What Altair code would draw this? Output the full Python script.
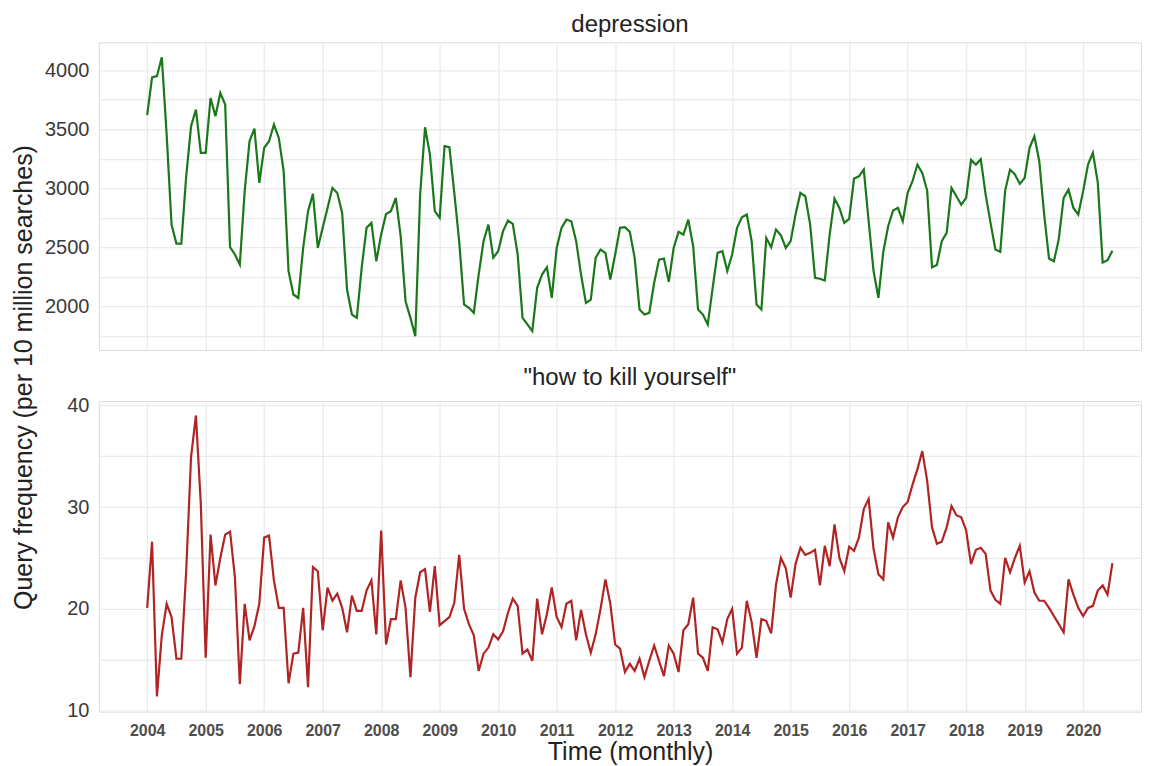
import altair as alt
import pandas as pd

START_YEAR = 2004

# Monthly query frequency (per 10 million searches), Jan 2004 - Jul 2020
depression = [
    3620, 3940, 3950, 4110, 3450, 2690, 2530, 2530, 3100, 3525, 3667, 3300,
    3300, 3765, 3610, 3808, 3709, 2500, 2438, 2353, 2975, 3400, 3506, 3045,
    3342, 3398, 3540, 3426, 3144, 2297, 2099, 2070, 2494, 2805, 2952, 2494,
    2664, 2833, 3003, 2960, 2790, 2141, 1929, 1901, 2324, 2664, 2706, 2381,
    2607, 2782, 2805, 2918, 2593, 2042, 1901, 1746, 2950, 3517, 3285, 2805,
    2749, 3356, 3347, 2960, 2551, 2014, 1986, 1943, 2268, 2551, 2692, 2410,
    2466, 2636, 2726, 2698, 2438, 1901, 1845, 1788, 2155, 2268, 2330, 2070,
    2494, 2664, 2734, 2720, 2551, 2268, 2028, 2056, 2410, 2480, 2452, 2226,
    2438, 2664, 2669, 2630, 2410, 1972, 1929, 1943, 2198, 2395, 2404, 2206,
    2494, 2630, 2607, 2734, 2508, 1972, 1929, 1845, 2155, 2452, 2466, 2297,
    2438, 2664, 2754, 2777, 2551, 2014, 1972, 2579, 2500, 2650, 2600, 2494,
    2551, 2777, 2960, 2932, 2692, 2240, 2232, 2217, 2607, 2912, 2833, 2706,
    2740, 3082, 3101, 3158, 2720, 2300, 2070, 2460, 2678, 2811, 2833, 2720,
    2960, 3059, 3200, 3130, 2980, 2330, 2350, 2551, 2621, 3003, 2932, 2860,
    2918, 3240, 3200, 3245, 2946, 2706, 2480, 2460, 2980, 3158, 3116, 3037,
    3087, 3342, 3440, 3229, 2777, 2404, 2381, 2568, 2918, 2988, 2833, 2777,
    2975, 3200, 3300, 3050, 2370, 2390, 2470,
]

kill_yourself = [
    20.1, 26.6, 11.4, 17.4, 20.5, 19.2, 15.1, 15.1, 23.7, 34.9, 39.0, 30.3,
    15.2, 27.3, 22.3, 25.0, 27.3, 27.6, 23.1, 12.6, 20.5, 16.9, 18.3, 20.5,
    27.0, 27.2, 22.8, 20.1, 20.1, 12.7, 15.6, 15.7, 20.1, 12.3, 24.1, 23.7,
    17.9, 22.1, 20.8, 21.5, 20.1, 17.7, 21.3, 19.8, 19.8, 21.8, 22.8, 17.5,
    27.7, 16.5, 19.0, 19.0, 22.8, 20.1, 13.3, 21.1, 23.6, 23.9, 19.7, 24.2,
    18.4, 18.8, 19.2, 20.6, 25.3, 20.0, 18.5, 17.4, 13.9, 15.6, 16.2, 17.5,
    17.0, 17.8, 19.6, 21.0, 20.3, 15.6, 16.0, 14.9, 21.0, 17.5, 19.5, 22.1,
    19.2, 18.2, 20.5, 20.8, 16.9, 19.9, 17.5, 15.7, 17.5, 20.0, 22.9, 20.5,
    16.5, 16.1, 13.8, 14.6, 13.9, 15.1, 13.3, 14.9, 16.4, 14.9, 13.4, 16.4,
    15.6, 13.8, 17.9, 18.5, 21.1, 15.6, 15.2, 13.9, 18.2, 18.0, 16.7, 19.0,
    20.0, 15.6, 16.2, 20.8, 18.7, 15.2, 19.0, 18.8, 17.6, 22.4, 25.0, 24.0,
    21.1, 24.4, 26.0, 25.3, 25.5, 25.8, 22.3, 26.2, 24.2, 28.3, 25.0, 23.7,
    26.1, 25.7, 27.0, 29.8, 30.8, 25.9, 23.4, 22.9, 28.5, 27.0, 29.0, 30.0,
    30.5, 32.2, 33.7, 35.5, 32.6, 28.0, 26.4, 26.6, 28.0, 30.1, 29.2, 29.0,
    27.7, 24.4, 25.8, 26.0, 25.4, 21.8, 20.9, 20.5, 25.0, 23.6, 25.0, 26.2,
    22.6, 23.7, 21.6, 20.8, 20.8, 20.1, 19.3, 18.5, 17.7, 22.9, 21.4, 20.1,
    19.3, 20.1, 20.3, 21.8, 22.3, 21.4, 24.5,
]

year_ticks = list(range(2004, 2021))
dep_ticks = [1750, 2000, 2250, 2500, 2750, 3000, 3250, 3500, 3750, 4000]
kill_ticks = [10, 15, 20, 25, 30, 35, 40]

time = [START_YEAR + i / 12 for i in range(len(depression))]
df_dep = pd.DataFrame({"t": time, "v": depression})
df_kill = pd.DataFrame({"t": time[: len(kill_yourself)], "v": kill_yourself})

FONT = "Liberation Sans"
GRID = "#EBEBEB"
W = 1043
X_DOMAIN = [2003.175, 2020.989]

x_scale = alt.Scale(domain=X_DOMAIN, nice=False, zero=False)

common_y = dict(
    ticks=False, domain=False, labelPadding=10, labelFontSize=20,
    labelColor="#3a3a3a", labelFont=FONT, gridColor=GRID, gridWidth=1.3,
    format="d",
)

top = (
    alt.Chart(df_dep)
    .mark_line(color="#1a781a", strokeWidth=2.2)
    .encode(
        x=alt.X(
            "t:Q", scale=x_scale,
            axis=alt.Axis(values=year_ticks, labels=False, ticks=False, domain=False,
                          title=None, grid=True, gridColor=GRID, gridWidth=1.3,
                          minExtent=0, maxExtent=0),
        ),
        y=alt.Y(
            "v:Q",
            scale=alt.Scale(domain=[1628, 4237], nice=False, zero=False),
            axis=alt.Axis(values=dep_ticks,
                          labelExpr="datum.value % 500 === 0 ? datum.label : ''",
                          title="Query frequency (per 10 million searches)",
                          titleFontSize=25, titleFont=FONT, titleFontWeight="normal",
                          titleColor="#222222", titleAngle=270, titleAlign="center",
                          titleBaseline="bottom", titleX=-62.4, titleY=335,
                          **common_y),
        ),
    )
    .properties(
        width=W, height=308,
        title=alt.TitleParams("depression", fontSize=24, font=FONT, fontWeight="normal",
                              color="#222222", offset=5, dx=10, anchor="middle",
                              frame="group"),
    )
)

bottom = (
    alt.Chart(df_kill)
    .mark_line(color="#b02424", strokeWidth=2.2)
    .encode(
        x=alt.X(
            "t:Q", scale=x_scale,
            axis=alt.Axis(values=year_ticks, format="d", ticks=False, domain=False,
                          grid=True, gridColor=GRID, gridWidth=1.3,
                          labelFontSize=16, labelFontWeight="bold", labelColor="#4d4d4d",
                          labelFont=FONT, labelPadding=11, labelFlush=False,
                          labelOverlap=False,
                          title="Time (monthly)", titleFontSize=25, titleFont=FONT,
                          titleFontWeight="normal", titleColor="#222222",
                          titlePadding=1, titleX=531.6),
        ),
        y=alt.Y(
            "v:Q",
            scale=alt.Scale(domain=[9.9, 40.42], nice=False, zero=False),
            axis=alt.Axis(values=kill_ticks, title=None,
                          labelExpr="datum.value % 10 === 0 ? datum.label : ''",
                          **common_y),
        ),
    )
    .properties(
        width=W, height=311,
        title=alt.TitleParams('"how to kill yourself"', fontSize=24, font=FONT,
                              fontWeight="normal", color="#222222", offset=5, dx=10,
                              anchor="middle", frame="group"),
    )
)

chart = (
    alt.vconcat(top, bottom, spacing=51, bounds="flush")
    .properties(padding={"left": 3, "top": 4, "right": 0, "bottom": 0})
    .configure_view(stroke=None)
    .configure(font=FONT)
)

chart.save("out.html", embed_options={"renderer": "svg", "actions": False})
